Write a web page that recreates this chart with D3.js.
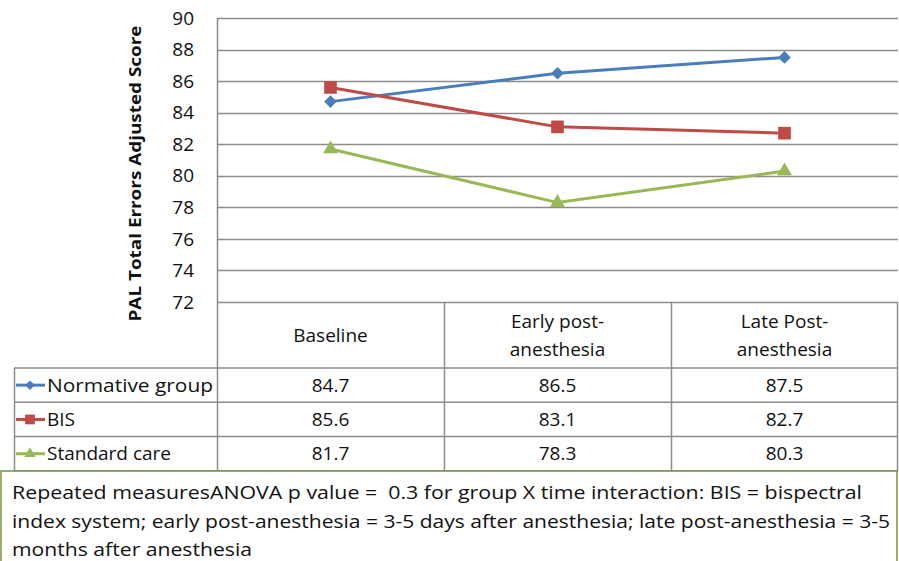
<!DOCTYPE html>
<html>
<head>
<meta charset="utf-8">
<script src="https://cdn.jsdelivr.net/npm/d3@7"></script>
<style>
  body { margin: 0; background: #fff; }
  svg text { font-family: "Open Sans", "Liberation Sans", sans-serif; fill: #111; }
</style>
</head>
<body>
<div id="chart"></div>
<script>
// data
const categories = [["Baseline"], ["Early post-", "anesthesia"], ["Late Post-", "anesthesia"]];
const seriesNames = ["Normative group", "BIS", "Standard care"];
const normative = [84.7, 86.5, 87.5];
const bis = [85.6, 83.1, 82.7];
const standardCare = [81.7, 78.3, 80.3];
const yTicks = [72, 74, 76, 78, 80, 82, 84, 86, 88, 90];
const footnote = [
  "Repeated measuresANOVA p value =  0.3 for group X time interaction: BIS = bispectral",
  "index system; early post-anesthesia = 3-5 days after anesthesia; late post-anesthesia = 3-5",
  "months after anesthesia"
];

// rotated square, like the Excel diamond marker
const diamond = {
  draw(ctx, size) {
    const r = Math.sqrt(size / 2);
    ctx.moveTo(0, -r); ctx.lineTo(r, 0); ctx.lineTo(0, r); ctx.lineTo(-r, 0); ctx.closePath();
  }
};

const series = [
  { name: seriesNames[0], values: normative, color: "#4a7ebb", shape: diamond, size: 80, small: 45 },
  { name: seriesNames[1], values: bis, color: "#be4b48", shape: d3.symbolSquare, size: 160, small: 95 },
  { name: seriesNames[2], values: standardCare, color: "#98b954", shape: d3.symbolTriangle, size: 95, small: 55 }
];

const width = 899, height = 561;
const plot = { left: 217, right: 898, top: 18, bottom: 302 };
const gridColor = "#8c8c8c";
const fs = "19px";

const svg = d3.select("#chart").append("svg")
  .attr("width", width)
  .attr("height", height);

const x = d3.scaleBand()
  .domain(d3.range(categories.length))
  .range([plot.left, plot.right]);

const y = d3.scaleLinear()
  .domain([72, 90])
  .range([plot.bottom, plot.top]);

// gridlines
svg.append("g")
  .selectAll("line")
  .data(yTicks)
  .join("line")
  .attr("x1", plot.left)
  .attr("x2", plot.right)
  .attr("y1", d => Math.round(y(d)) + 0.5)
  .attr("y2", d => Math.round(y(d)) + 0.5)
  .attr("stroke", gridColor)
  .attr("stroke-width", 1.5);

// y axis line
svg.append("line")
  .attr("x1", plot.left + 0.5).attr("x2", plot.left + 0.5)
  .attr("y1", plot.top).attr("y2", plot.bottom)
  .attr("stroke", gridColor).attr("stroke-width", 1.5);

// tick labels
svg.append("g")
  .selectAll("text")
  .data(yTicks)
  .join("text")
  .attr("x", 194)
  .attr("y", d => y(d))
  .attr("dy", "0.35em")
  .attr("text-anchor", "end")
  .style("font-size", fs)
  .text(d => d);

// axis title
svg.append("text")
  .attr("transform", `translate(141,${(25 + 322) / 2}) rotate(-90)`)
  .attr("text-anchor", "middle")
  .style("font-size", "16px")
  .style("font-weight", "bold")
  .attr("textLength", 296)
  .attr("lengthAdjust", "spacingAndGlyphs")
  .text("PAL Total Errors Adjusted Score");

// lines + markers
const line = d3.line()
  .x((d, i) => x(i) + x.bandwidth() / 2)
  .y(d => y(d));

series.forEach(s => {
  svg.append("path")
    .datum(s.values)
    .attr("fill", "none")
    .attr("stroke", s.color)
    .attr("stroke-width", 3)
    .attr("d", line);

  svg.append("g")
    .selectAll("path")
    .data(s.values)
    .join("path")
    .attr("transform", (d, i) => `translate(${x(i) + x.bandwidth() / 2},${y(d)})`)
    .attr("d", d3.symbol().type(s.shape).size(s.size))
    .attr("fill", s.color);
});

// data table
const table = svg.append("g");
const headerTop = plot.bottom, headerBottom = 368;
const rowH = 34.3;
const legendLeft = 14;

// verticals
x.domain().forEach(i => {
  table.append("line")
    .attr("x1", x(i) + 0.5).attr("x2", x(i) + 0.5)
    .attr("y1", headerTop).attr("y2", headerBottom + rowH * 3)
    .attr("stroke", gridColor).attr("stroke-width", 1.5);
});
table.append("line")
  .attr("x1", plot.right - 0.5).attr("x2", plot.right - 0.5)
  .attr("y1", headerTop).attr("y2", headerBottom + rowH * 3)
  .attr("stroke", gridColor).attr("stroke-width", 1.5);
table.append("line")
  .attr("x1", legendLeft + 0.5).attr("x2", legendLeft + 0.5)
  .attr("y1", headerBottom).attr("y2", headerBottom + rowH * 3)
  .attr("stroke", gridColor).attr("stroke-width", 1.5);

// horizontals
d3.range(4).forEach(r => {
  table.append("line")
    .attr("x1", legendLeft).attr("x2", plot.right)
    .attr("y1", headerBottom + r * rowH).attr("y2", headerBottom + r * rowH)
    .attr("stroke", gridColor).attr("stroke-width", 1.5);
});

// header labels
categories.forEach((lines, i) => {
  const cx = x(i) + x.bandwidth() / 2;
  const cy = (headerTop + headerBottom) / 2;
  lines.forEach((t, k) => {
    table.append("text")
      .attr("x", cx)
      .attr("y", cy + (k - (lines.length - 1) / 2) * 28)
      .attr("dy", "0.35em")
      .attr("text-anchor", "middle")
      .style("font-size", fs)
      .text(t);
  });
});

// series rows
series.forEach((s, r) => {
  const cy = headerBottom + r * rowH + rowH / 2;
  table.append("line")
    .attr("x1", legendLeft + 2).attr("x2", legendLeft + 31)
    .attr("y1", cy).attr("y2", cy)
    .attr("stroke", s.color).attr("stroke-width", 3);
  table.append("path")
    .attr("transform", `translate(${legendLeft + 16},${cy})`)
    .attr("d", d3.symbol().type(s.shape).size(s.small))
    .attr("fill", s.color);
  table.append("text")
    .attr("x", legendLeft + 33)
    .attr("y", cy)
    .attr("dy", "0.35em")
    .style("font-size", fs)
    .attr("textLength", s.name === "Normative group" ? 166 : null)
    .attr("lengthAdjust", "spacingAndGlyphs")
    .text(s.name);
  s.values.forEach((v, i) => {
    table.append("text")
      .attr("x", x(i) + x.bandwidth() / 2)
      .attr("y", cy)
      .attr("dy", "0.35em")
      .attr("text-anchor", "middle")
      .style("font-size", fs)
      .text(d3.format(".1f")(v));
  });
});

// footnote box
svg.append("rect")
  .attr("x", 1).attr("y", 471)
  .attr("width", width - 3).attr("height", 100)
  .attr("fill", "#fff")
  .attr("stroke", "#76923c")
  .attr("stroke-width", 1.5);

const noteLengths = [850, 878, 240];
footnote.forEach((t, k) => {
  svg.append("text")
    .attr("x", 12)
    .attr("y", 499 + k * 28.5)
    .style("font-size", fs)
    .style("white-space", "pre")
    .attr("textLength", noteLengths[k])
    .attr("lengthAdjust", "spacingAndGlyphs")
    .text(t);
});
</script>
</body>
</html>
